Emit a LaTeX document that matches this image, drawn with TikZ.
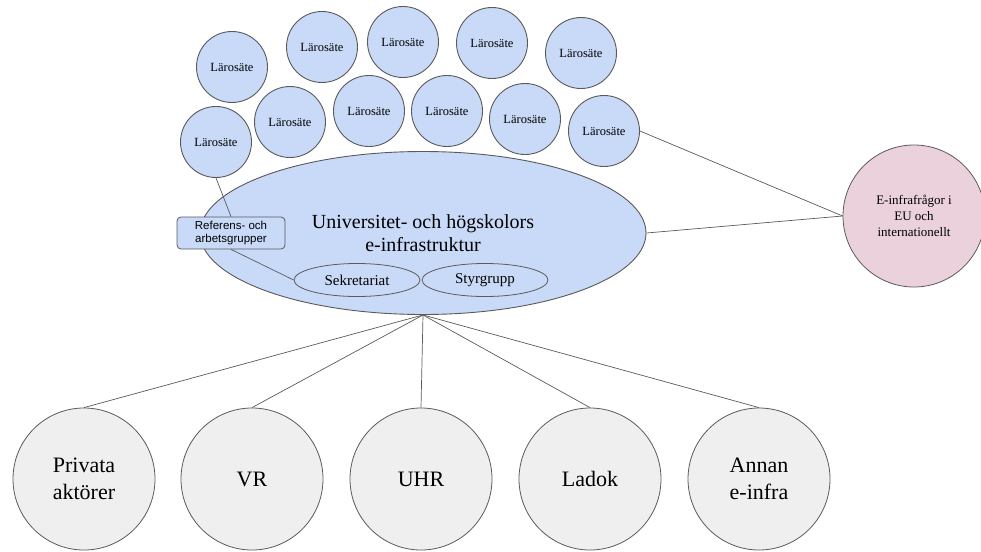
\documentclass[tikz,border=0pt]{standalone}
\usepackage{fontspec}
\setmainfont{Liberation Serif}
\newfontfamily\arialfont{Liberation Sans}
\usetikzlibrary{shapes.geometric}

\definecolor{laroblue}{HTML}{C9DAF8}
\definecolor{eupink}{HTML}{EAD1DC}
\definecolor{orggray}{HTML}{EFEFEF}
\definecolor{edgegray}{HTML}{5A5A5A}

\tikzset{
    laro/.style={circle, draw=edgegray, fill=laroblue, line width=0.9pt, minimum size=71pt, inner sep=0pt, font=\fontsize{12.5}{15}\selectfont},
    org/.style={circle, draw=edgegray, fill=orggray, line width=0.8pt, minimum size=142pt, inner sep=0pt, align=center, font=\fontsize{22}{27}\selectfont},
    group/.style={ellipse, draw=edgegray, fill=laroblue, line width=0.8pt, minimum width=126pt, minimum height=33pt, inner sep=0pt, font=\fontsize{15}{18}\selectfont},
    link/.style={draw=edgegray, line width=0.7pt}
}

\begin{document}
\begin{tikzpicture}[x=1pt, y=-1pt]

    \useasboundingbox (0,0) rectangle (981,551);

    % central ellipse
    \node[ellipse, draw=edgegray, fill=laroblue, line width=0.9pt, minimum width=446pt, minimum height=163pt, inner sep=0pt, align=center, font=\fontsize{20}{22.5}\selectfont] (uh) at (423,233) {Universitet- och högskolors\\e-infrastruktur};

    % the universities
    \foreach \n/\x/\y in {1/232/67, 2/322/47, 3/403/42, 4/492/43, 5/581/53,
                          6/216/142, 7/290/122, 8/369/111, 9/447/111, 10/525/119, 11/604/131}
        \node[laro] (l\n) at (\x,\y) {Lärosäte};

    \node[group] (sek) at (357,280) {Sekretariat};
    \node[group] (styr) at (485,280) {Styrgrupp};

    \node[rectangle, rounded corners=4pt, draw=edgegray, fill=laroblue, line width=0.8pt, minimum width=108pt, minimum height=32pt, inner sep=0pt, align=center, font=\arialfont\fontsize{11.5}{13}\selectfont] (ref) at (231,233) {Referens- och\\arbetsgrupper};

    \draw[link] (l6.south) -- (ref.north);
    \draw[link] (ref.south) -- (sek.west);

    % international
    \node[circle, draw=edgegray, fill=eupink, line width=0.8pt, minimum size=142pt, inner sep=0pt, align=center, font=\fontsize{13}{16}\selectfont] (eu) at (914,216) {E-infrafrågor i\\EU och\\internationellt};

    \draw[link] (l11.east) -- (eu.west);
    \draw[link] (uh.east) -- (eu.west);

    % other actors
    \node[org] (priv) at (84,479) {Privata\\aktörer};
    \node[org] (vr) at (252,479) {VR};
    \node[org] (uhr) at (421,479) {UHR};
    \node[org] (ladok) at (590,479) {Ladok};
    \node[org] (annan) at (759,479) {Annan\\e-infra};

    \draw[link] (uh.south) -- (priv.north);
    \draw[link] (uh.south) -- (vr.north);
    \draw[link] (uh.south) -- (uhr.north);
    \draw[link] (uh.south) -- (ladok.north);
    \draw[link] (uh.south) -- (annan.north);

\end{tikzpicture}
\end{document}
